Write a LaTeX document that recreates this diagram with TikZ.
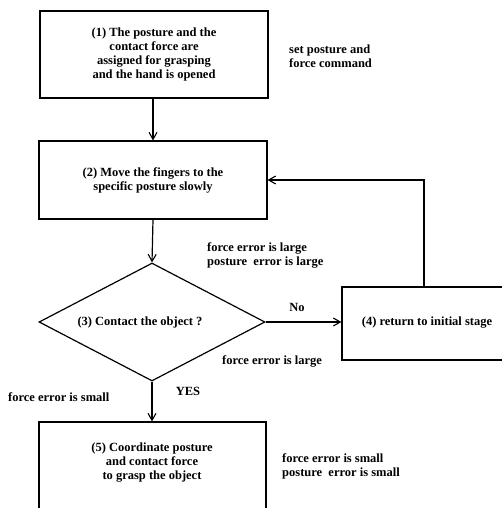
\documentclass[tikz,border=0pt]{standalone}
\usepackage{fontspec}
\setmainfont{Liberation Serif}
\usetikzlibrary{shapes.geometric,arrows.meta}
\begin{document}
\begin{tikzpicture}[x=1pt,y=-1pt,
  every node/.style={font=\fontsize{12.5}{14}\selectfont\bfseries},
  stepbox/.style={draw,line width=1.2pt,inner sep=0pt,align=center},
  lbl/.style={align=left,inner sep=0pt},
  arr/.style={line width=1.2pt,-{Straight Barb[length=7pt,width=8pt,line width=1.1pt]}}]
\useasboundingbox (0,0) rectangle (502,508);
% boxes
\node[stepbox,minimum width=228pt,minimum height=87pt] (b1) at (154,54.5)
  {(1) The posture and the\\contact force are\\assigned for grasping\\and the hand is opened};
\node[stepbox,minimum width=228pt,minimum height=78pt] (b2) at (153,180)
  {(2) Move the fingers to the\\specific posture slowly};
\node[draw,line width=1.2pt,shape=diamond,inner sep=0pt,aspect=1.9,
  minimum width=226pt,minimum height=118pt] (d3) at (152,322) {};
\node[inner sep=0pt] (t3) at (140,322) {(3) Contact the object ?};
\node[stepbox,minimum width=200pt,minimum height=73pt] (b4) at (442,323.5) {};
\node[inner sep=0pt] (t4) at (427,323) {(4) return to initial stage};
\node[stepbox,minimum width=227pt,minimum height=100pt] (b5) at (152.5,472) {};
\node[inner sep=0pt,align=center] (t5) at (152,463)
  {(5) Coordinate posture\\and contact force\\to grasp the object};
% connectors
\draw[arr] (b1.south -| 153,0) -- (b2.north -| 153,0);
\draw[arr] (b2.south -| 153,0) -- (d3.north);
\draw[arr] (d3.east) -- (d3.east -| b4.west);
\draw[arr] (d3.south) -- (d3.south |- b5.north);
\coordinate (fb) at (424,0 |- b4.north);
\draw[arr] (fb) |- (b2.east);
% labels
\node[lbl,anchor=west] (l1) at (289,56.5) {set posture and\\force command};
\node[lbl,anchor=west] (l2) at (207,255) {force error is large\\posture\ \ error is large};
\node[inner sep=0pt] (lno) at (297,307) {No};
\node[lbl,anchor=west] (l3) at (222,361) {force error is large};
\node[lbl,anchor=west] (l4) at (8,397) {force error is small};
\node[inner sep=0pt] (lyes) at (188,391) {YES};
\node[lbl,anchor=west] (l5) at (282,466.5) {force error is small\\posture\ \ error is small};
\end{tikzpicture}
\end{document}
